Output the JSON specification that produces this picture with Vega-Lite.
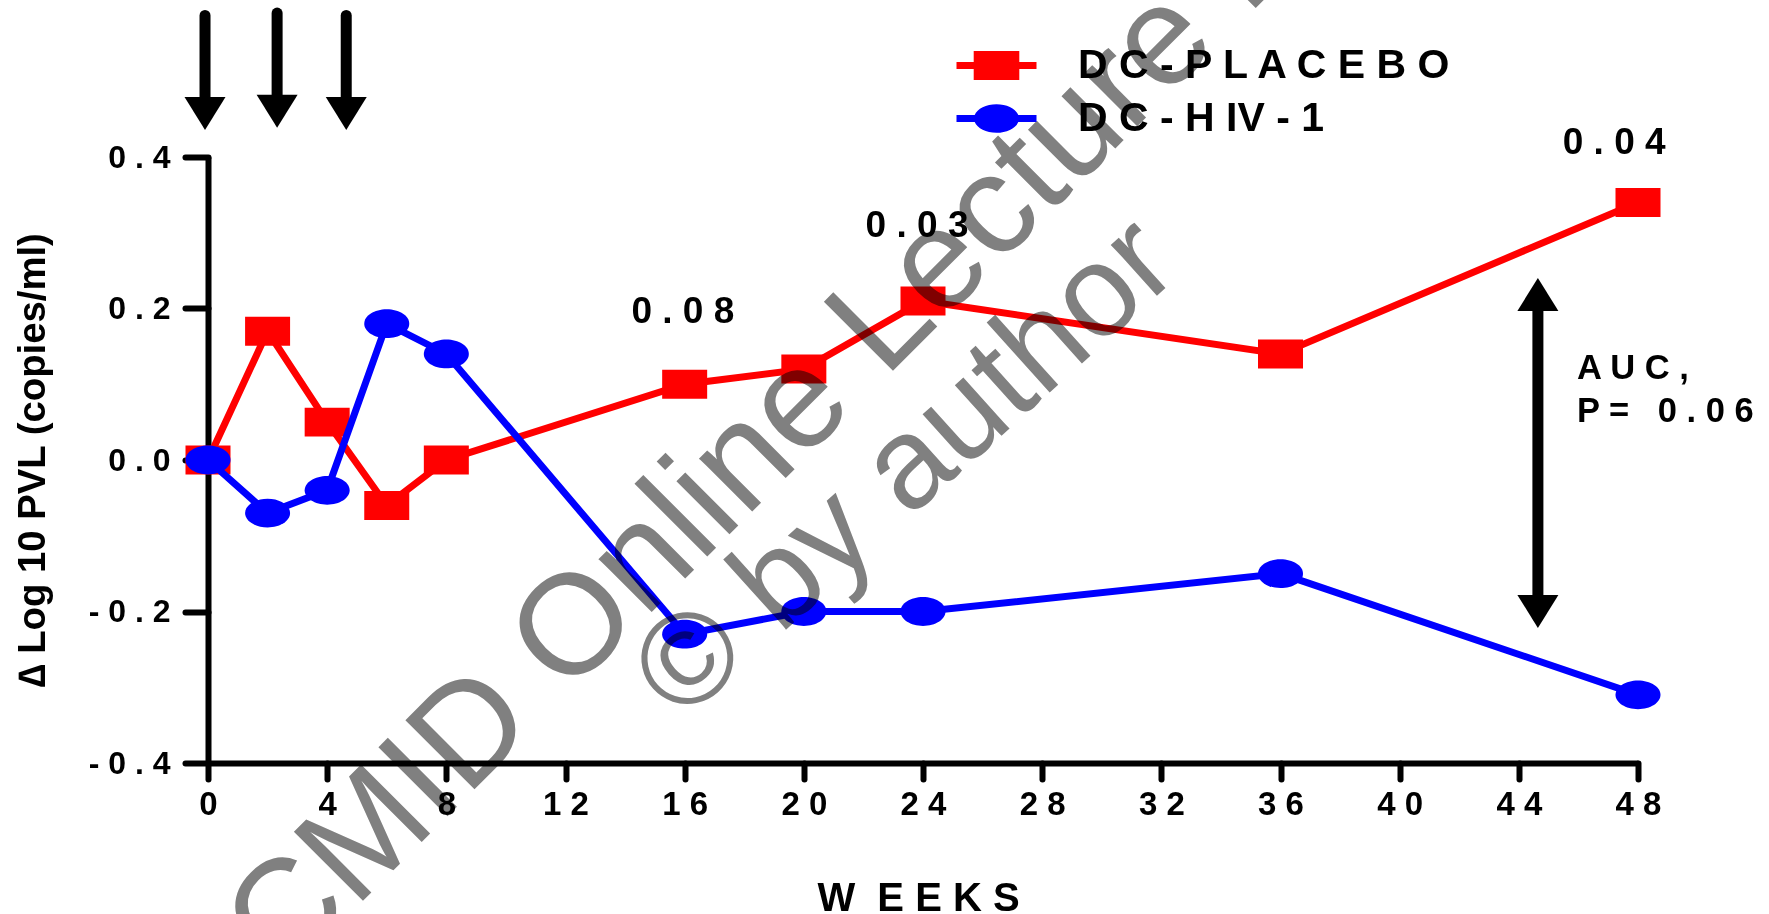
{
  "$schema": "https://vega.github.io/schema/vega-lite/v6.json",
  "autosize": "none",
  "width": 1430,
  "height": 606,
  "padding": {"left": 208, "top": 157, "right": 131, "bottom": 151},
  "background": "white",
  "config": {
    "view": {"stroke": null},
    "font": "Liberation Sans"
  },
  "datasets": {
    "series": [
      {"week": 0, "value": 0.0, "group": "DC-PLACEBO"},
      {"week": 2, "value": 0.17, "group": "DC-PLACEBO"},
      {"week": 4, "value": 0.05, "group": "DC-PLACEBO"},
      {"week": 6, "value": -0.06, "group": "DC-PLACEBO"},
      {"week": 8, "value": 0.0, "group": "DC-PLACEBO"},
      {"week": 16, "value": 0.10, "group": "DC-PLACEBO"},
      {"week": 20, "value": 0.12, "group": "DC-PLACEBO"},
      {"week": 24, "value": 0.21, "group": "DC-PLACEBO"},
      {"week": 36, "value": 0.14, "group": "DC-PLACEBO"},
      {"week": 48, "value": 0.34, "group": "DC-PLACEBO"},
      {"week": 0, "value": 0.0, "group": "DC-HIV-1"},
      {"week": 2, "value": -0.07, "group": "DC-HIV-1"},
      {"week": 4, "value": -0.04, "group": "DC-HIV-1"},
      {"week": 6, "value": 0.18, "group": "DC-HIV-1"},
      {"week": 8, "value": 0.14, "group": "DC-HIV-1"},
      {"week": 16, "value": -0.23, "group": "DC-HIV-1"},
      {"week": 20, "value": -0.20, "group": "DC-HIV-1"},
      {"week": 24, "value": -0.20, "group": "DC-HIV-1"},
      {"week": 36, "value": -0.15, "group": "DC-HIV-1"},
      {"week": 48, "value": -0.31, "group": "DC-HIV-1"}
    ],
    "pvalues": [
      {"week": 15.94, "value": 0.181, "label": "0 . 0 8"},
      {"week": 23.8, "value": 0.294, "label": "0 . 0 3"},
      {"week": 47.2, "value": 0.404, "label": "0 . 0 4"}
    ],
    "auc": [
      {"week": 45.95, "value": 0.107, "label": "A U C ,"},
      {"week": 45.95, "value": 0.050, "label": "P = \u00a0 0 . 0 6"}
    ],
    "shafts": [
      {"week": -0.1, "value": 0.5868, "value2": 0.4574},
      {"week": 2.32, "value": 0.590, "value2": 0.4604},
      {"week": 4.64, "value": 0.5868, "value2": 0.4574},
      {"week": 44.64, "value": 0.225, "value2": -0.207}
    ],
    "heads": [
      {"week": -0.1, "value": 0.4574, "dir": "down"},
      {"week": 2.32, "value": 0.4604, "dir": "down"},
      {"week": 4.64, "value": 0.4574, "dir": "down"},
      {"week": 44.64, "value": 0.2185, "dir": "up"},
      {"week": 44.64, "value": -0.2, "dir": "down"}
    ],
    "watermark": [
      {"week": 0.24, "value": -0.777, "line": 1, "label": "PCMID Online Lecture Library"},
      {"week": 15.9, "value": -0.348, "line": 2, "label": "© by author"}
    ]
  },
  "layer": [
    {
      "data": {"name": "series"},
      "mark": {"type": "point", "filled": true, "opacity": 0, "size": 400, "strokeWidth": 0},
      "encoding": {
        "x": {"field": "week", "type": "quantitative"},
        "y": {"field": "value", "type": "quantitative"},
        "color": {
          "field": "group", "type": "nominal",
          "scale": {"domain": ["DC-PLACEBO", "DC-HIV-1"], "range": ["#ff0000", "#0000ff"]},
          "legend": {
            "orient": "none", "legendX": 768, "legendY": -112,
            "title": null, "padding": 0,
            "labelExpr": "datum.label == 'DC-PLACEBO' ? 'D C - P L A C E B O' : 'D C - H IV - 1'",
            "labelFont": "Liberation Sans", "labelFontWeight": "bold", "labelFontSize": 41, "labelColor": "black",
            "labelLimit": 1000,
            "labelOffset": 61, "rowPadding": 11, "symbolSize": 400, "symbolStrokeWidth": 0,
            "symbolOpacity": 1
          }
        },
        "shape": {
          "field": "group", "type": "nominal",
          "scale": {
            "domain": ["DC-PLACEBO", "DC-HIV-1"],
            "range": [
              "M-4 -0.35 H-2.28 V-1.45 H2.28 V-0.35 H4 V0.35 H2.28 V1.45 H-2.28 V0.35 H-4 Z",
              "M-4 -0.35 H-2.18 A2.25 1.43 0 0 1 2.18 -0.35 H4 V0.35 H2.18 A2.25 1.43 0 0 1 -2.18 0.35 H-4 Z"
            ]
          },
          "legend": {
            "orient": "none", "legendX": 768, "legendY": -112,
            "title": null, "padding": 0,
            "labelExpr": "datum.label == 'DC-PLACEBO' ? 'D C - P L A C E B O' : 'D C - H IV - 1'",
            "labelFont": "Liberation Sans", "labelFontWeight": "bold", "labelFontSize": 41, "labelColor": "black",
            "labelLimit": 1000,
            "labelOffset": 61, "rowPadding": 11, "symbolSize": 400, "symbolStrokeWidth": 0,
            "symbolOpacity": 1
          }
        }
      }
    },
    {
      "mark": {"type": "rule", "strokeWidth": 3.3, "color": "black"},
      "encoding": {"y": {"datum": 0, "type": "quantitative"}}
    },
    {
      "data": {"name": "series"},
      "transform": [{"filter": "datum.group === 'DC-PLACEBO'"}],
      "mark": {"type": "line", "strokeWidth": 7, "color": "#ff0000"},
      "encoding": {
        "x": {
          "field": "week", "type": "quantitative",
          "scale": {"domain": [0, 48], "nice": false, "zero": false},
          "axis": {
            "title": "W \u00a0E E K S",
            "values": [0, 4, 8, 12, 16, 20, 24, 28, 32, 36, 40, 44, 48],
            "labelExpr": "join(split(datum.label, ''), ' ')",
            "labelFont": "Liberation Sans", "labelFontWeight": "bold", "labelFontSize": 33, "labelColor": "black",
            "labelPadding": 9, "labelOverlap": false, "labelFlush": false,
            "tickSize": 16, "tickWidth": 6, "tickColor": "black", "tickCap": "round",
            "domainWidth": 6, "domainColor": "black",
            "grid": false,
            "titleFont": "Liberation Sans", "titleFontWeight": "bold", "titleFontSize": 40, "titleColor": "black",
            "titleBaseline": "alphabetic", "titleX": 710, "titleY": 147, "titleAlign": "center"
          }
        },
        "y": {
          "field": "value", "type": "quantitative",
          "scale": {"domain": [-0.4, 0.4], "nice": false, "zero": false},
          "axis": {
            "title": "∆ Log 10 PVL (copies/ml)",
            "values": [-0.4, -0.2, 0, 0.2, 0.4],
            "labelExpr": "join(split((datum.value < -0.0001 ? '-' : '') + format(abs(datum.value), '.1f'), ''), ' ')",
            "labelFont": "Liberation Sans", "labelFontWeight": "bold", "labelFontSize": 32, "labelColor": "black",
            "labelPadding": 15, "labelOverlap": false, "labelFlush": false,
            "tickSize": 23, "tickWidth": 6, "tickColor": "black", "tickCap": "round",
            "domainWidth": 6, "domainColor": "black",
            "grid": false,
            "titleFont": "Liberation Sans", "titleFontWeight": "bold", "titleFontSize": 38.3, "titleColor": "black",
            "titleAngle": -90, "titleBaseline": "alphabetic", "titleAlign": "center", "titleX": -164, "titleY": 303
          }
        }
      }
    },
    {
      "data": {"name": "series"},
      "transform": [{"filter": "datum.group === 'DC-PLACEBO'"}],
      "mark": {"type": "point", "filled": true, "opacity": 1, "size": 2025, "shape": "M-1 -0.644 H1 V0.644 H-1 Z", "strokeWidth": 0, "color": "#ff0000"},
      "encoding": {
        "x": {"field": "week", "type": "quantitative"},
        "y": {"field": "value", "type": "quantitative"}
      }
    },
    {
      "data": {"name": "series"},
      "transform": [{"filter": "datum.group === 'DC-HIV-1'"}],
      "mark": {"type": "line", "strokeWidth": 7, "color": "#0000ff"},
      "encoding": {
        "x": {"field": "week", "type": "quantitative"},
        "y": {"field": "value", "type": "quantitative"}
      }
    },
    {
      "data": {"name": "series"},
      "transform": [{"filter": "datum.group === 'DC-HIV-1'"}],
      "mark": {"type": "point", "filled": true, "opacity": 1, "size": 2025, "shape": "M-1 0 A1 0.64 0 1 1 1 0 A1 0.64 0 1 1 -1 0 Z", "strokeWidth": 0, "color": "#0000ff"},
      "encoding": {
        "x": {"field": "week", "type": "quantitative"},
        "y": {"field": "value", "type": "quantitative"}
      }
    },
    {
      "data": {"name": "pvalues"},
      "mark": {"type": "text", "font": "Liberation Sans", "fontWeight": "bold", "fontSize": 37, "color": "black", "align": "center", "baseline": "alphabetic"},
      "encoding": {
        "x": {"field": "week", "type": "quantitative"},
        "y": {"field": "value", "type": "quantitative"},
        "text": {"field": "label"}
      }
    },
    {
      "data": {"name": "auc"},
      "mark": {"type": "text", "font": "Liberation Sans", "fontWeight": "bold", "fontSize": 34.5, "color": "black", "align": "left", "baseline": "alphabetic"},
      "encoding": {
        "x": {"field": "week", "type": "quantitative"},
        "y": {"field": "value", "type": "quantitative"},
        "text": {"field": "label"}
      }
    },
    {
      "data": {"name": "shafts"},
      "mark": {"type": "rule", "strokeWidth": 11, "color": "black", "strokeCap": "round"},
      "encoding": {
        "x": {"field": "week", "type": "quantitative"},
        "y": {"field": "value", "type": "quantitative"},
        "y2": {"field": "value2"}
      }
    },
    {
      "data": {"name": "heads"},
      "transform": [{"filter": "datum.dir === 'down'"}],
      "mark": {"type": "point", "filled": true, "opacity": 1, "size": 1681, "strokeWidth": 0, "color": "black", "shape": "M0 0.805 L1 -0.805 L-1 -0.805 Z"},
      "encoding": {
        "x": {"field": "week", "type": "quantitative"},
        "y": {"field": "value", "type": "quantitative"}
      }
    },
    {
      "data": {"name": "heads"},
      "transform": [{"filter": "datum.dir === 'up'"}],
      "mark": {"type": "point", "filled": true, "opacity": 1, "size": 1681, "strokeWidth": 0, "color": "black", "shape": "M0 -0.805 L1 0.805 L-1 0.805 Z"},
      "encoding": {
        "x": {"field": "week", "type": "quantitative"},
        "y": {"field": "value", "type": "quantitative"}
      }
    },
    {
      "data": {"name": "watermark"},
      "transform": [{"filter": "datum.line === 1"}],
      "mark": {"type": "text", "font": "Liberation Sans", "fontSize": 142, "color": "#808080", "align": "left", "baseline": "alphabetic", "angle": -45, "blend": "multiply"},
      "encoding": {
        "x": {"field": "week", "type": "quantitative"},
        "y": {"field": "value", "type": "quantitative"},
        "text": {"field": "label"}
      }
    },
    {
      "data": {"name": "watermark"},
      "transform": [{"filter": "datum.line === 2"}],
      "mark": {"type": "text", "font": "Liberation Sans", "fontSize": 130, "color": "#808080", "align": "left", "baseline": "alphabetic", "angle": -42, "blend": "multiply"},
      "encoding": {
        "x": {"field": "week", "type": "quantitative"},
        "y": {"field": "value", "type": "quantitative"},
        "text": {"field": "label"}
      }
    }
  ]
}
